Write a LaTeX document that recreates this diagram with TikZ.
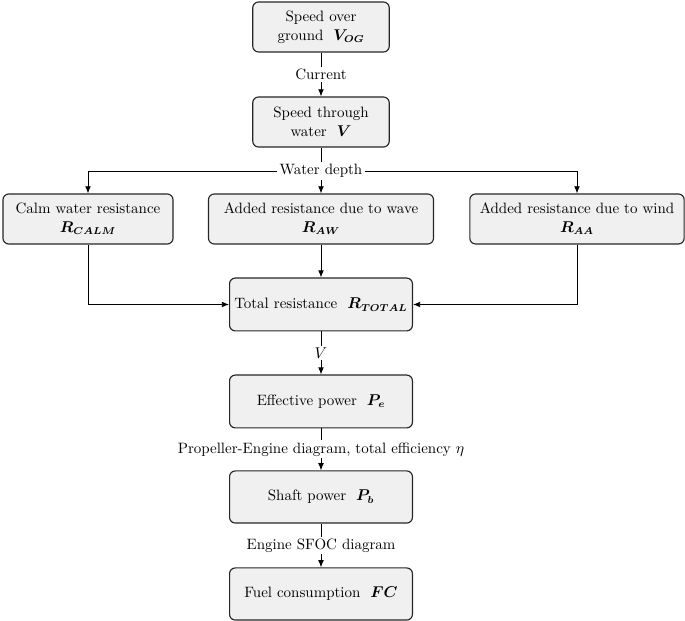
\documentclass[tikz,border=0pt]{standalone}
\usepackage{bm}
\usetikzlibrary{arrows.meta}
\begin{document}
\begin{tikzpicture}[x=0.7pt,y=-0.7pt,
  box/.style={draw=black!85, line width=0.8pt, rounded corners=4pt, fill=black!6, align=center, inner sep=0pt, font=\fontsize{10.5}{13}\selectfont},
  lbl/.style={fill=white, inner sep=1.5pt, font=\fontsize{10.5}{13}\selectfont},
  arr/.style={-{Latex[length=5pt,width=4pt]}, line width=0.6pt},
  ln/.style={line width=0.6pt}]
\useasboundingbox (0,0) rectangle (685,621);
\node[box, minimum width=95.5pt, minimum height=35pt] (b1) at (321,27) {Speed over\\ground \ $\bm{V_{OG}}$};
\node[box, minimum width=95.5pt, minimum height=35pt] (b2) at (321,122) {Speed through\\water \ $\bm{V}$};
\node[box, minimum width=119pt, minimum height=35pt] (calm) at (88,219) {Calm water resistance\\$\bm{R_{CALM}}$};
\node[box, minimum width=157.5pt, minimum height=35pt] (wave) at (321,219) {Added resistance due to wave\\$\bm{R_{AW}}$};
\node[box, minimum width=150pt, minimum height=35pt] (wind) at (577,219) {Added resistance due to wind\\$\bm{R_{AA}}$};
\node[box, minimum width=128pt, minimum height=37pt] (total) at (321,304.5) {Total resistance \ $\bm{R_{TOTAL}}$};
\node[box, minimum width=128pt, minimum height=37pt] (pe) at (321,401.5) {Effective power \ $\bm{P_e}$};
\node[box, minimum width=128pt, minimum height=36.5pt] (pb) at (321,497) {Shaft power \ $\bm{P_b}$};
\node[box, minimum width=128pt, minimum height=36.5pt] (fc) at (321,594) {Fuel consumption \ $\bm{FC}$};
\draw[arr] (b1) -- node[lbl] {Current} (b2);
\node[lbl] (wd) at (321,171) {Water depth};
\draw[ln] (b2.south) -- (wd.north);
\draw[arr] (wd.south) -- (wave.north);
\draw[arr] (wd.west) -- (wd.west -| calm.north) -- (calm.north);
\draw[arr] (wd.east) -- (wd.east -| wind.north) -- (wind.north);
\draw[arr] (calm.south) |- (total.west);
\draw[arr] (wind.south) |- (total.east);
\draw[arr] (wave.south) -- (total.north);
\draw[arr] (total) -- node[lbl] {$V$} (pe);
\draw[arr] (pe) -- node[lbl] {Propeller-Engine diagram, total efficiency $\eta$} (pb);
\draw[arr] (pb) -- node[lbl] {Engine SFOC diagram} (fc);
\end{tikzpicture}
\end{document}
